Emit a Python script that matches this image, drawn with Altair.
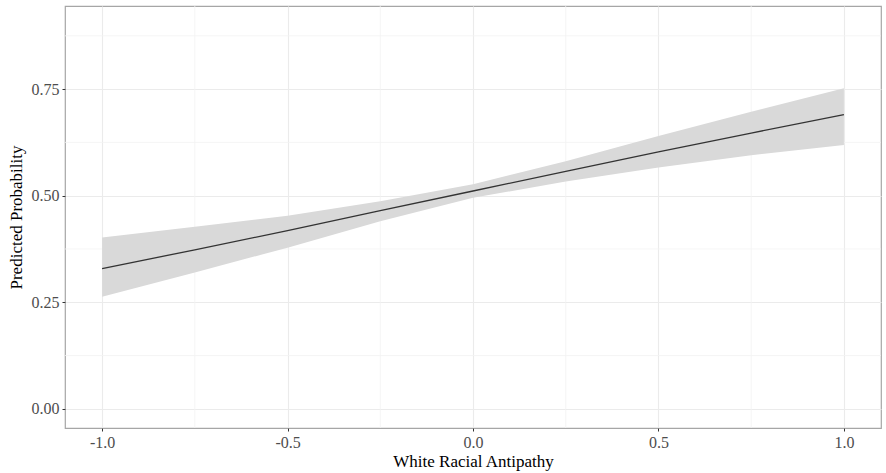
import altair as alt
import pandas as pd

# Values
x_vals = [-1.0, -0.75, -0.5, -0.25, 0.0, 0.25, 0.5, 0.75, 1.0]
fit = [0.329, 0.373, 0.418, 0.465, 0.511, 0.557, 0.603, 0.647, 0.690]
upper = [0.402, 0.427, 0.453, 0.487, 0.527, 0.581, 0.640, 0.697, 0.752]
lower = [0.263, 0.320, 0.378, 0.440, 0.495, 0.533, 0.566, 0.595, 0.619]

x_ticks = [-1.0, -0.5, 0.0, 0.5, 1.0]
y_ticks = [0.0, 0.25, 0.5, 0.75]
x_minor = [-0.75, -0.25, 0.25, 0.75]
y_minor = [0.125, 0.375, 0.625, 0.875]

df = pd.DataFrame({"x": x_vals, "fit": fit, "upper": upper, "lower": lower})
dfx = pd.DataFrame({"v": x_minor})
dfy = pd.DataFrame({"v": y_minor})

FONT = "Liberation Serif"
xs = alt.Scale(domain=[-1.1, 1.1], nice=False, zero=False)
ys = alt.Scale(domain=[-0.045, 0.945], nice=False, zero=False)

x_axis = alt.Axis(values=x_ticks, title="White Racial Antipathy",
                  labelExpr="(datum.value < 0 ? '-' : '') + format(abs(datum.value), '.1f')",
                  grid=True, gridColor="#ebebeb", gridWidth=1.1, domain=False,
                  tickColor="#333333", tickSize=3, labelPadding=3,
                  labelFont=FONT, labelFontSize=16, labelColor="#4d4d4d",
                  titleFont=FONT, titleFontSize=17, titleFontWeight="normal",
                  titleColor="#000000", titlePadding=3)
y_axis = alt.Axis(values=y_ticks, format=".2f", title="Predicted Probability",
                  grid=True, gridColor="#ebebeb", gridWidth=1.1, domain=False,
                  tickColor="#333333", tickSize=3, labelPadding=3,
                  labelFont=FONT, labelFontSize=16, labelColor="#4d4d4d",
                  titleFont=FONT, titleFontSize=17, titleFontWeight="normal",
                  titleColor="#000000", titlePadding=6)

vminor = alt.Chart(dfx).mark_rule(color="#f2f2f2", strokeWidth=0.8).encode(
    x=alt.X("v:Q", scale=xs, axis=x_axis))
hminor = alt.Chart(dfy).mark_rule(color="#f2f2f2", strokeWidth=0.8).encode(
    y=alt.Y("v:Q", scale=ys, axis=y_axis))

band = alt.Chart(df).mark_area(color="#d9d9d9", opacity=1).encode(
    x=alt.X("x:Q", scale=xs, axis=x_axis),
    y=alt.Y("lower:Q", scale=ys, axis=y_axis),
    y2="upper:Q")

line = alt.Chart(df).mark_line(color="#333333", strokeWidth=1.3).encode(
    x=alt.X("x:Q", scale=xs, axis=x_axis),
    y=alt.Y("fit:Q", scale=ys, axis=y_axis))

chart = alt.layer(vminor, hminor, band, line).properties(
    width=816, height=422,
    autosize=alt.AutoSizeParams(type="none"),
    padding={"left": 65, "top": 6, "right": 5, "bottom": 45},
    background="#ffffff",
).configure_view(stroke="#a6a6a6", strokeWidth=1.2)

chart.save("out.html", embed_options={"renderer": "svg", "actions": False})
